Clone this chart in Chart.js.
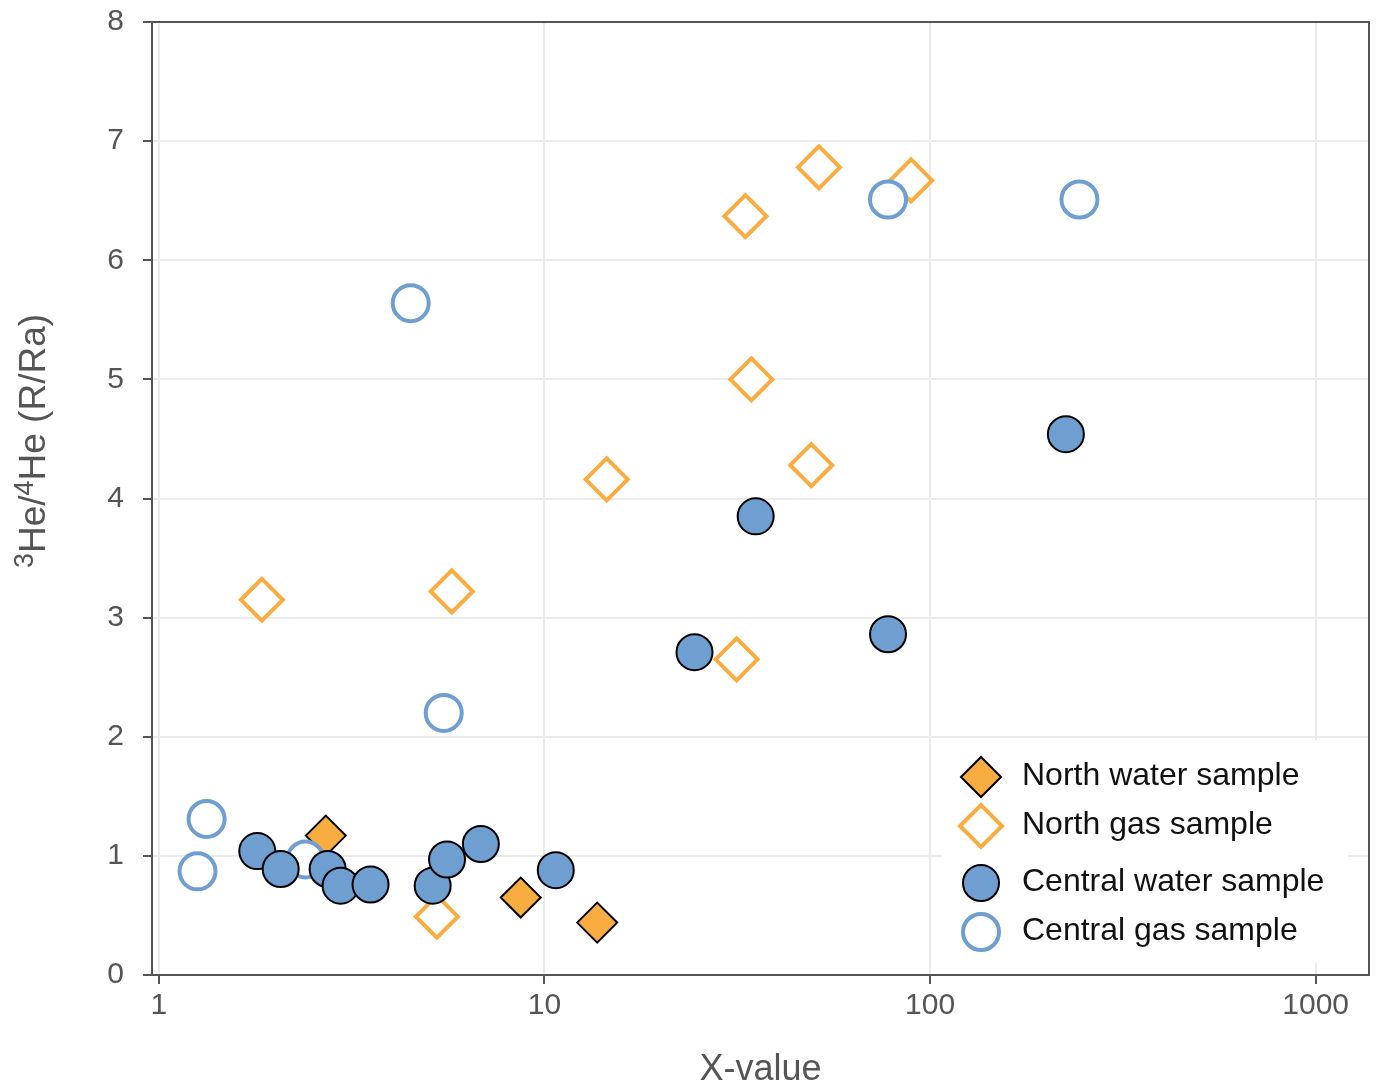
<!DOCTYPE html>
<html>
<head>
<meta charset="utf-8">
<script src="https://cdn.jsdelivr.net/npm/chart.js@4.4.1/dist/chart.umd.min.js"></script>
<style>
html,body{margin:0;padding:0;background:#fff;}
#wrap{position:relative;width:1379px;height:1087px;}
</style>
</head>
<body>
<div id="wrap"><canvas id="c" width="1379" height="1087"></canvas></div>
<script>
// ---- data ----
const seriesNames = ['North water sample', 'North gas sample', 'Central water sample', 'Central gas sample'];
const northWaterX = [2.71, 8.68, 13.7];
const northWaterY = [1.17, 0.65, 0.44];
const northGasX = [1.85, 5.75, 5.26, 14.5, 31.5, 34.4, 33.2, 51.5, 89.3, 49.2];
const northGasY = [3.15, 3.22, 0.49, 4.16, 2.65, 5.00, 6.37, 6.78, 6.67, 4.28];
const centralWaterX = [1.80, 2.07, 2.74, 2.96, 3.54, 5.13, 5.59, 6.84, 10.7, 24.5, 35.3, 77.8, 225];
const centralWaterY = [1.04, 0.89, 0.89, 0.75, 0.76, 0.75, 0.97, 1.10, 0.88, 2.71, 3.85, 2.86, 4.54];
const centralGasX = [1.33, 1.26, 2.40, 5.48, 4.50, 77.8, 244];
const centralGasY = [1.31, 0.87, 0.97, 2.20, 5.64, 6.51, 6.51];
const xTickValues = [1, 10, 100, 1000];
const yTickValues = [0, 1, 2, 3, 4, 5, 6, 7, 8];
const xTitle = 'X-value';
// y title pieces: [text, isSuperscript]
const yTitleParts = [['3', true], ['He/', false], ['4', true], ['He (R/Ra)', false]];

const ORANGE = '#F9AD41';
const BLUE = '#6F9ED0';
const AXIS = '#555555';
const FONT = "'Liberation Sans', Arial, sans-serif";

function pts(xs, ys){ return xs.map((x,i)=>({x:x, y:ys[i]})); }

const styles = [
  {pointStyle:'rectRot', radius:20, bg:ORANGE, border:'#000', bw:2},
  {pointStyle:'rectRot', radius:21, bg:'#ffffff', border:ORANGE, bw:4},
  {pointStyle:'circle', radius:18, bg:BLUE, border:'#000', bw:2},
  {pointStyle:'circle', radius:18, bg:'#ffffff', border:BLUE, bw:4}
];

const seriesData = [pts(northWaterX,northWaterY), pts(northGasX,northGasY), pts(centralWaterX,centralWaterY), pts(centralGasX,centralGasY)];
const drawOrder = [3, 2, 0, 1];

const datasets = seriesNames.map((name,i)=>({
  label: name,
  data: seriesData[i],
  order: drawOrder[i],
  pointStyle: styles[i].pointStyle,
  pointRadius: styles[i].radius,
  pointHoverRadius: styles[i].radius,
  backgroundColor: styles[i].bg,
  borderColor: styles[i].border,
  pointBorderWidth: styles[i].bw,
  borderWidth: styles[i].bw,
  showLine: false
}));

function drawMarker(ctx, st, x, y){
  ctx.save();
  ctx.beginPath();
  const r = st.radius;
  if (st.pointStyle === 'circle') {
    ctx.arc(x, y, r, 0, Math.PI*2);
  } else {
    ctx.moveTo(x - r, y); ctx.lineTo(x, y - r); ctx.lineTo(x + r, y); ctx.lineTo(x, y + r); ctx.closePath();
  }
  ctx.fillStyle = st.bg; ctx.fill();
  ctx.lineWidth = st.bw; ctx.strokeStyle = st.border; ctx.stroke();
  ctx.restore();
}

const framePlugin = {
  id: 'frame',
  afterDraw(chart){
    const ctx = chart.ctx, a = chart.chartArea;
    ctx.save();
    ctx.strokeStyle = AXIS; ctx.lineWidth = 2;
    ctx.beginPath();
    ctx.moveTo(a.left, a.top); ctx.lineTo(a.right, a.top); ctx.lineTo(a.right, a.bottom);
    ctx.stroke();
    // legend box
    ctx.fillStyle = '#ffffff';
    ctx.fillRect(942, 740, 406, 223);
    const ys = [777, 826, 883, 932];
    ctx.font = '32px ' + FONT;
    ctx.textBaseline = 'alphabetic';
    ctx.textAlign = 'left';
    seriesNames.forEach((n,i)=>{
      drawMarker(ctx, styles[i], 981, ys[i]);
      ctx.fillStyle = '#111';
      ctx.fillText(n, 1022, ys[i] + 8);
    });
    // y-axis title, rotated
    const mainF = '37px ' + FONT, supF = '27px ' + FONT;
    let total = 0;
    yTitleParts.forEach(p=>{ ctx.font = p[1] ? supF : mainF; total += ctx.measureText(p[0]).width; });
    ctx.translate(45, 441);
    ctx.rotate(-Math.PI/2);
    ctx.fillStyle = AXIS;
    let cx = -total/2;
    yTitleParts.forEach(p=>{
      ctx.font = p[1] ? supF : mainF;
      ctx.fillText(p[0], cx, p[1] ? -12 : 0);
      cx += ctx.measureText(p[0]).width;
    });
    ctx.restore();
  }
};

new Chart(document.getElementById('c'), {
  type: 'scatter',
  data: { datasets },
  plugins: [framePlugin],
  options: {
    responsive: false,
    animation: false,
    events: [],
    layout: { autoPadding: false, padding: { top: 22, right: 10, left: 0, bottom: 0 } },
    plugins: { legend: { display: false }, tooltip: { enabled: false } },
    scales: {
      x: {
        type: 'logarithmic',
        min: 0.96, max: 1375,
        afterBuildTicks(s){ s.ticks = xTickValues.map(v=>({value:v, major:true})); },
        afterFit(s){ s.height = 112; s.paddingLeft = 0; s.paddingRight = 0; },
        ticks: {
          autoSkip: false, maxRotation: 0, color: AXIS, padding: 4,
          font: { size: 30, family: FONT },
          callback(v){ return String(v); }
        },
        grid: { color: '#ebebeb', lineWidth: 2, tickColor: AXIS, tickLength: 9, tickWidth: 2 },
        border: { display: true, color: AXIS, width: 2 },
        title: { display: true, text: xTitle, color: AXIS, font: { size: 36, family: FONT }, padding: { top: 0, bottom: -5 } }
      },
      y: {
        min: 0, max: 8,
        afterBuildTicks(s){ s.ticks = yTickValues.map(v=>({value:v})); },
        afterFit(s){ s.width = 152; s.paddingTop = 0; s.paddingBottom = 0; },
        ticks: { color: AXIS, padding: 19, font: { size: 30, family: FONT } },
        grid: { color: '#ebebeb', lineWidth: 2, tickColor: AXIS, tickLength: 9, tickWidth: 2 },
        border: { display: true, color: AXIS, width: 2 },
        title: { display: false }
      }
    }
  }
});
</script>
</body>
</html>
